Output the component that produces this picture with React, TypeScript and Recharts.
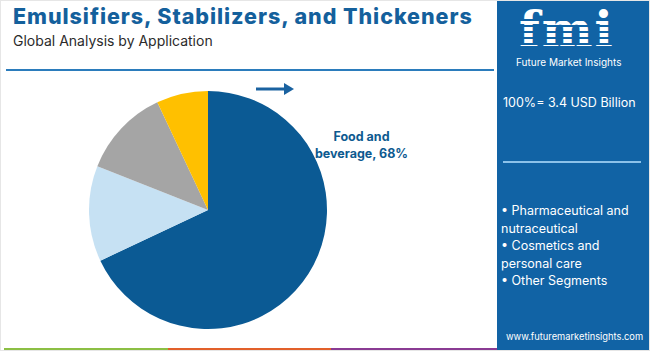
import React from "react";
import { PieChart, Pie, Cell } from "recharts";

const categories = [
  "Food and beverage",
  "Pharmaceutical and nutraceutical",
  "Cosmetics and personal care",
  "Other Segments",
];
const shares = [68, 13, 12, 7];
const colors = ["#0b5a94", "#c6e1f3", "#a5a5a5", "#ffc000"];
const legendItems = ["Pharmaceutical and", "nutraceutical", "Cosmetics and", "personal care", "Other Segments"];
const bulletFlags = [true, false, true, false, true];
const title = "Emulsifiers, Stabilizers, and Thickeners";
const subtitle = "Global Analysis by Application";
const totalLabel = "100%= 3.4 USD Billion";

const data = categories.map((name, i) => ({ name, value: shares[i] }));

const FONT = "Inter, 'Open Sans', sans-serif";

const renderLabel = (props: any) => {
  const { cx, cy, outerRadius, index, name, value } = props;
  if (index !== 0) return null;
  const x = cx + outerRadius * 1.29;
  const y = cy - outerRadius * 0.58;
  const words = name.split(" ");
  return (
    <text x={x} y={y} textAnchor="middle" fill="#0d5a90" fontFamily={FONT} fontWeight={700} fontSize={12.5}>
      <tspan x={x} dy={0}>{words[0] + " " + words[1]}</tspan>
      <tspan x={x} dy={17}>{words[2] + ", " + value + "%"}</tspan>
    </text>
  );
};

export default function App() {
  return (
    <div
      style={{
        position: "absolute",
        left: 0,
        top: 0,
        width: 650,
        height: 351,
        background: "#fff",
        overflow: "hidden",
        fontFamily: FONT,
        boxSizing: "border-box",
        border: "1px solid #e6e6e6",
      }}
    >
      <div style={{ position: "absolute", left: 12, top: 2, fontSize: 21.5, fontWeight: 800, color: "#14609c", whiteSpace: "nowrap", letterSpacing: 0.95 }}>
        {title}
      </div>
      <div style={{ position: "absolute", left: 12, top: 31, fontSize: 14, color: "#2b2b2b", whiteSpace: "nowrap" }}>
        {subtitle}
      </div>
      <div style={{ position: "absolute", left: 5, top: 68, width: 488, height: 2, background: "#2b7cbc" }} />

      {/* arrow */}
      <svg style={{ position: "absolute", left: 0, top: 0 }} width={650} height={351}>
        <line x1={255} y1={88} x2={285} y2={88} stroke="#1a62a0" strokeWidth={3} />
        <polygon points="283,82 293,88 283,94" fill="#1a62a0" />
      </svg>

      <div style={{ position: "absolute", left: 0, top: 0 }}>
        <PieChart width={650} height={351} margin={{ top: 0, right: 0, bottom: 0, left: 0 }}>
          <Pie
            data={data}
            dataKey="value"
            nameKey="name"
            cx={207}
            cy={209}
            outerRadius={119}
            startAngle={90}
            endAngle={-270}
            stroke="none"
            isAnimationActive={false}
            label={renderLabel}
            labelLine={false}
          >
            {data.map((d, i) => (
              <Cell key={d.name} fill={colors[i]} />
            ))}
          </Pie>
        </PieChart>
      </div>

      {/* right panel */}
      <div style={{ position: "absolute", left: 496, top: 0, width: 154, height: 351, background: "#1163a5" }}>
        <div style={{ position: "absolute", left: 22, top: 6, fontFamily: "'DejaVu Serif', serif", fontWeight: 700, fontSize: 48, color: "#fff", letterSpacing: 2, lineHeight: "44px", height: 44 }}>
          fmi
        </div>
        {[18, 24, 30, 36, 42].map((y) => (
          <div key={y} style={{ position: "absolute", left: 18, top: y, width: 112, height: 1.5, background: "#1163a5" }} />
        ))}
        <div style={{ position: "absolute", left: 19, top: 55, fontSize: 10, lineHeight: "12px", color: "#fff", whiteSpace: "nowrap" }}>Future Market Insights</div>
        <div style={{ position: "absolute", left: 6, top: 94, fontSize: 12.5, color: "#fff", whiteSpace: "nowrap" }}>{totalLabel}</div>
        <div style={{ position: "absolute", left: 6, top: 160, width: 138, height: 2, background: "#8cc2ea" }} />
        <div style={{ position: "absolute", left: 4, top: 201, fontSize: 12.5, color: "#fff", lineHeight: "17.6px", whiteSpace: "nowrap" }}>
          {legendItems.map((t, i) => (
            <div key={i}>{(bulletFlags[i] ? "• " : "") + t}</div>
          ))}
        </div>
        <div style={{ position: "absolute", left: 9, top: 330, fontSize: 9.3, color: "#fff", whiteSpace: "nowrap" }}>www.futuremarketinsights.com</div>
      </div>

      {/* bottom bar */}
      <div style={{ position: "absolute", left: 3, top: 347, width: 164, height: 4, background: "#8cbf44" }} />
      <div style={{ position: "absolute", left: 167, top: 347, width: 163, height: 4, background: "#e2602a" }} />
      <div style={{ position: "absolute", left: 330, top: 347, width: 166, height: 4, background: "#8a3b93" }} />
    </div>
  );
}
